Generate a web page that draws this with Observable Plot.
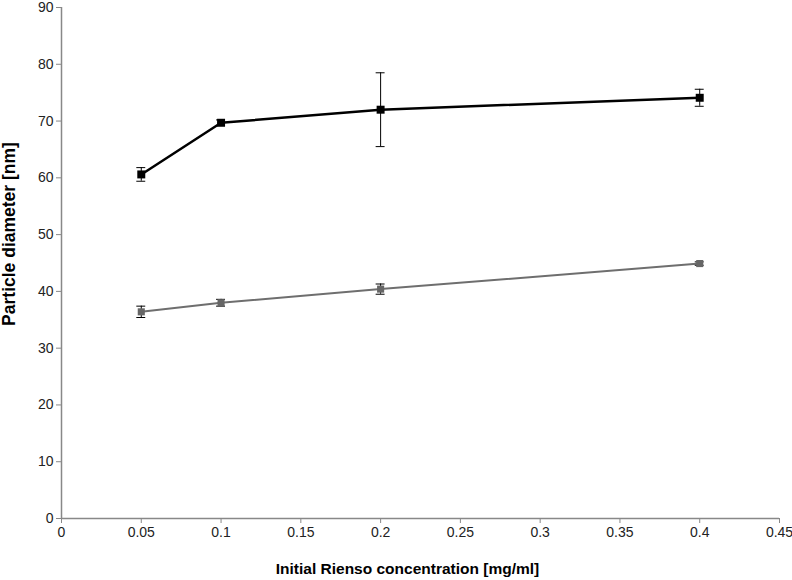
<!DOCTYPE html>
<html><head><meta charset="utf-8">
<script src="https://cdn.jsdelivr.net/npm/d3@7"></script>
<script src="https://cdn.jsdelivr.net/npm/@observablehq/plot@0.6"></script>
<style>body{margin:0;background:#fff;font-family:"Liberation Sans",Arial,sans-serif}</style>
</head><body><div id="chart"></div>
<script>
const concentrations = [0.05, 0.1, 0.2, 0.4];
const seriesA = [60.6, 69.7, 72.0, 74.1];
const errorsA = [1.2, 0.5, 6.5, 1.5];
const seriesB = [36.4, 38.0, 40.4, 44.9];
const errorsB = [1.0, 0.6, 0.9, 0.3];
const xTicks = [0, 0.05, 0.1, 0.15, 0.2, 0.25, 0.3, 0.35, 0.4, 0.45];
const yTicks = [0, 10, 20, 30, 40, 50, 60, 70, 80, 90];

const rows = [];
concentrations.forEach((c, i) => {
  rows.push({s: "A", x: c, y: seriesA[i], e: errorsA[i]});
  rows.push({s: "B", x: c, y: seriesB[i], e: errorsB[i]});
});
const A = rows.filter(d => d.s === "A"), B = rows.filter(d => d.s === "B");
const cap = 0.0028;

const chart = Plot.plot({
  width: 792, height: 580,
  marginLeft: 61, marginRight: 13, marginTop: 7, marginBottom: 62,
  style: {fontFamily: "Liberation Sans, Arial, sans-serif", fontSize: "14px", color: "#222", background: "#fff"},
  x: {domain: [0, 0.45], label: null},
  y: {domain: [0, 90], label: null},
  marks: [
    Plot.ruleY([0], {stroke: "#888", strokeWidth: 1.5}),
    Plot.ruleX([0], {stroke: "#888", strokeWidth: 1.5}),
    Plot.axisX({ticks: xTicks, tickFormat: d => String(d), stroke: "#888", tickSize: 5, tickPadding: 4, fill: "#222", fontSize: 14, label: null}),
    Plot.axisY({ticks: yTicks, stroke: "#888", tickSize: 5, tickPadding: 3, fill: "#222", fontSize: 14, label: null}),
    Plot.line(B, {x: "x", y: "y", stroke: "#6e6e6e", strokeWidth: 2}),
    Plot.line(A, {x: "x", y: "y", stroke: "#000", strokeWidth: 2.5}),
    Plot.ruleX(rows, {x: "x", y1: d => d.y - d.e, y2: d => d.y + d.e, stroke: "#000", strokeWidth: 1}),
    Plot.ruleY(rows, {y: d => d.y - d.e, x1: d => d.x - cap, x2: d => d.x + cap, stroke: "#000", strokeWidth: 1}),
    Plot.ruleY(rows, {y: d => d.y + d.e, x1: d => d.x - cap, x2: d => d.x + cap, stroke: "#000", strokeWidth: 1}),
    Plot.dot(B, {x: "x", y: "y", symbol: "square", r: 4, fill: "#666", stroke: "none"}),
    Plot.dot(A, {x: "x", y: "y", symbol: "square", r: 4.5, fill: "#000", stroke: "none"}),
    Plot.text(["Initial Rienso concentration [mg/ml]"], {frameAnchor: "bottom", textAnchor: "middle", dx: -13, dy: 55, text: d => d, fontWeight: "bold", fontSize: 15.5, fill: "#000"}),
    Plot.text(["Particle diameter [nm]"], {frameAnchor: "left", textAnchor: "middle", dx: -52, dy: -29, rotate: -90, text: d => d, fontWeight: "bold", fontSize: 17.5, fill: "#000"})
  ]
});
document.getElementById("chart").appendChild(chart);
</script></body></html>
